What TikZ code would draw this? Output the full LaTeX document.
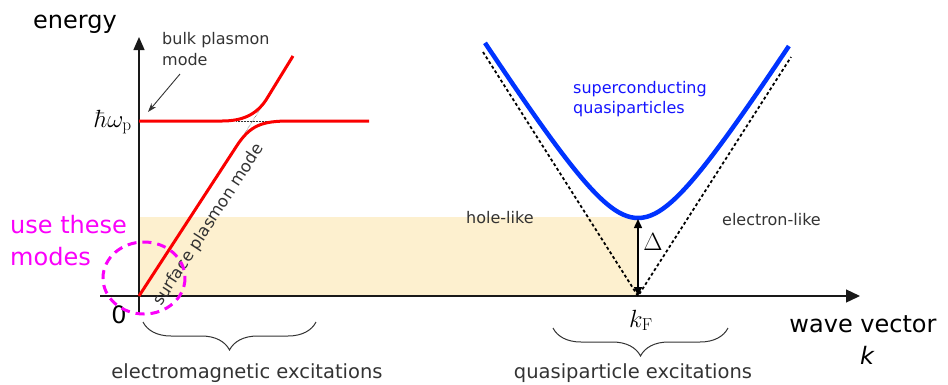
\documentclass[tikz,border=0pt]{standalone}
\usepackage[no-math]{fontspec}
\setmainfont{DejaVu Sans}
\usetikzlibrary{arrows.meta,decorations.pathreplacing}
\definecolor{bandcolor}{RGB}{253,240,207}
\definecolor{txtgray}{RGB}{51,51,51}
\definecolor{redc}{RGB}{250,0,0}
\definecolor{bluec}{RGB}{0,51,255}
\definecolor{bluetxt}{RGB}{20,20,255}
\definecolor{magc}{RGB}{250,0,250}
\begin{document}
\begin{tikzpicture}[x=1pt,y=-1pt,
  big/.style={font=\fontsize{24}{28}\selectfont, inner sep=0},
  small/.style={font=\fontsize{16}{20}\selectfont, text=txtgray, inner sep=0},
  mid/.style={font=\fontsize{19.5}{24}\selectfont, text=txtgray, inner sep=0},
  axis/.style={line width=1.3pt, draw=black!90},
  redline/.style={draw=redc, line width=3pt},
  guide/.style={draw=black!80, line width=0.5pt, densely dotted},
  asym/.style={draw=black, line width=1.8pt, dash pattern=on 3pt off 2.5pt},
  bracestyle/.style={draw=txtgray, line width=1pt, decorate, decoration={brace, mirror, amplitude=28pt}}]
\path[use as bounding box] (0,0) rectangle (948,384);

% shaded band
\fill[bandcolor] (139,217) rectangle (638,296);

% coordinates
\coordinate (origin) at (139,296);
\coordinate (kF) at (638,296);
\coordinate (gapmin) at (638,219);
\coordinate (yaxisbot) at (139,313);
\coordinate (yaxistop) at (139,37);
\coordinate (xaxisleft) at (100,296);
\coordinate (xaxisright) at (860,296);

% axes
\draw[axis, -{Triangle[length=13pt,width=11pt]}] (yaxisbot) -- (yaxistop);
\draw[axis, -{Triangle[length=14pt,width=13pt]}] (xaxisleft) -- (xaxisright);

% plasmon guides
\draw[guide] (236,121) -- (292,121);
\draw[guide] (236,147) -- (266,100);

% plasmon branches
\draw[redline] (origin) -- (236,147) .. controls (250,125) and (262,121) .. (290,121) -- (369,121);
\draw[redline] (139,121) -- (222,121) .. controls (242,121) and (256,115) .. (266,100) -- (293,56);

% asymptotes
\draw[asym] (483,52) -- (kF) -- (791,57);

% superconducting quasiparticle dispersion
\draw[draw=bluec, line width=4.5pt] plot[domain=-1.53:1.51, samples=80, smooth]
  ({638+100*\x},{296-100*sqrt(0.6084+(1.574*\x)^2)});

% gap arrow
\draw[line width=1.5pt, {Triangle[length=9pt,width=8pt]}-{Triangle[length=9pt,width=8pt]}] (kF) -- (gapmin);
\node[inner sep=0, font=\fontsize{29}{31}\selectfont] (delta) at (653,242) {$\Delta$};

% labels
\node[big, anchor=base] (energy) at (75,28) {energy};
\node[inner sep=0, font=\fontsize{24}{28}\selectfont, anchor=base east] (hwp) at (132,127) {$\hbar\omega_{\mathrm{p}}$};
\node[big, anchor=base] (zero) at (119,323) {0};
\node[inner sep=0, font=\fontsize{24}{28}\selectfont, anchor=base] (kFlab) at (641,327) {$k_{\mathrm{F}}$};
\node[big, anchor=base] (wave) at (863,332) {wave vector};
\node[big, anchor=base] (klab) at (867,364) {\itshape k};

\node[small, anchor=base west] (bulk1) at (162,44) {bulk plasmon};
\node[small, anchor=base west] (bulk2) at (162,65) {mode};
\coordinate (bulktip) at (148,112);
\draw[line width=0.9pt, draw=txtgray, -{Stealth[length=9pt,width=6pt]}] (180,74) -- (bulktip);

\node[small, anchor=center, rotate=57, font=\fontsize{16.5}{20}\selectfont] (surf) at (209,225) {surface plasmon mode};

\node[small, text=bluetxt, anchor=base west] (sc1) at (573,93) {superconducting};
\node[small, text=bluetxt, anchor=base west] (sc2) at (573,113) {quasiparticles};
\node[small, anchor=base west] (hole) at (466,223) {hole-like};
\node[small, anchor=base west] (elec) at (722,225) {electron-like};

\node[big, text=magc, anchor=base west] (use1) at (10,233) {use these};
\node[big, text=magc, anchor=base west] (use2) at (10,265) {modes};
\draw[draw=magc, line width=3pt, dash pattern=on 9pt off 6pt] (144,278) ellipse [x radius=41, y radius=36];

% braces
\draw[bracestyle] (143,322) -- (316,322);
\draw[bracestyle] (553,328) -- (728,328);
\node[mid, anchor=base] (em) at (247,378) {electromagnetic excitations};
\node[mid, anchor=base] (qp) at (633,378) {quasiparticle excitations};
\end{tikzpicture}
\end{document}
